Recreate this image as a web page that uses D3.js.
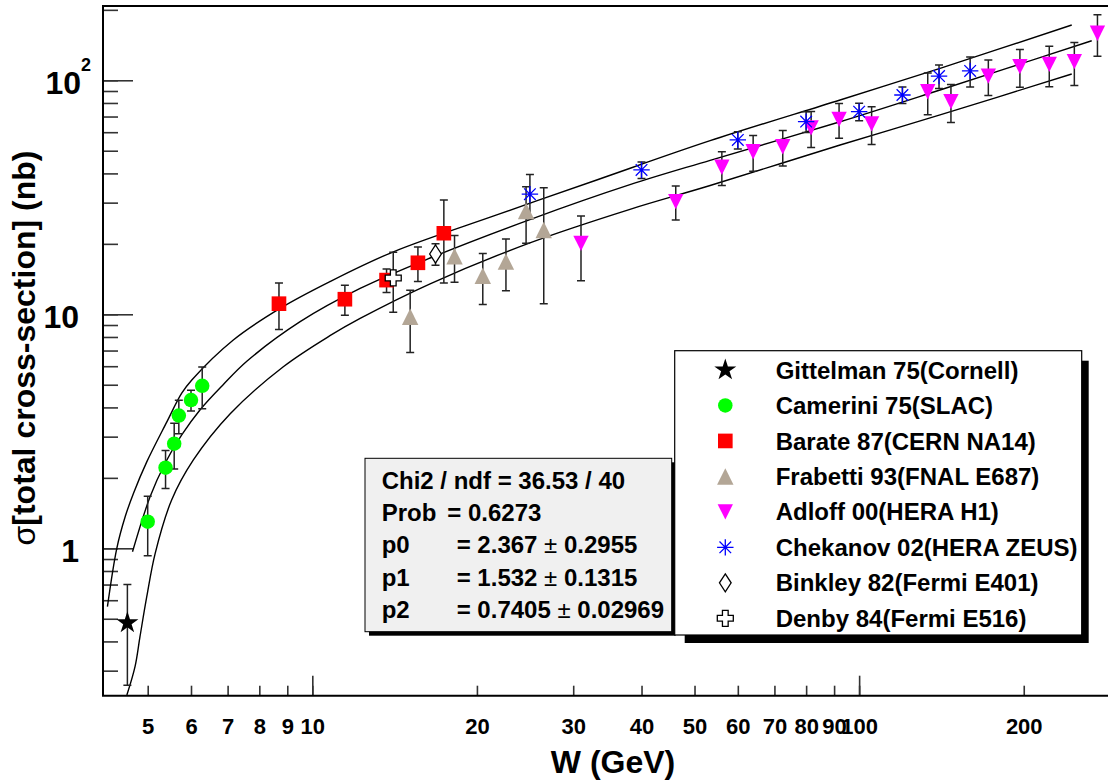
<!DOCTYPE html>
<html lang="en">
<head>
<meta charset="UTF-8">
<title>J/psi photoproduction cross-section</title>
<style>
    body { margin: 0; background: #fff; }
    svg { display: block; }
    text { font-family: "Liberation Sans", Arial, Helvetica, sans-serif; font-weight: bold; fill: #000; }
    .tick line { stroke-width: 1.6; }
    .curve { fill: none; stroke: #000; stroke-width: 1.4; }
    .err { stroke: #222; stroke-width: 1.5; fill: none; }
</style>
</head>
<body>
<svg width="1108" height="783"></svg>
<script src="https://cdn.jsdelivr.net/npm/d3@7/dist/d3.min.js"></script>
<script>

    // ---- data ----
    var gittelmanW = [4.59],
        gittelmanS = [0.48],
        gittelmanE = [0.22];

    var cameriniW = [5.0, 5.39, 5.59, 5.70, 6.0, 6.29],
        cameriniS = [1.30, 2.21, 2.80, 3.69, 4.30, 4.95],
        cameriniE = [0.37, 0.41, 0.62, 0.60, 0.44, 1.0];

    var barateW = [8.69, 11.47, 13.67, 15.6, 17.4],
        barateS = [11.1, 11.6, 14.0, 16.6, 22.2],
        barateE = [2.5, 1.7, 1.6, 2.8, 8.6];

    var frabettiW = [15.1, 18.2, 20.5, 22.6, 24.6, 26.5],
        frabettiS = [9.77, 17.7, 14.6, 16.8, 27.6, 22.9],
        frabettiE = [2.9, 4.0, 3.6, 4.2, 7.5, 11.8];

    var adloffW = [31.0, 46.2, 56.1, 64.0, 72.5, 81.7, 91.9, 105.4, 133.5, 147.2, 172.3, 196.8, 222.7, 247.5, 272.8],
        adloffS = [20.1, 30.3, 42.5, 49.5, 52.0, 62.6, 68.1, 65.1, 89.3, 81.0, 104.2, 114.3, 116.9, 120.1, 158.8],
        adloffE = [6.2, 5.0, 7.0, 8.6, 9.0, 11.0, 11.5, 12.0, 18.0, 15.0, 18.0, 21.0, 23.0, 25.0, 32.0];

    var chekanovW = [25.0, 40.0, 60.0, 80.0, 100, 120, 140, 159.6],
        chekanovS = [32.6, 41.4, 55.6, 66.6, 73.4, 86.5, 104.2, 109.6],
        chekanovE = [7.0, 3.4, 4.7, 6.8, 6.3, 7.0, 12.0, 16.0];

    var binkleyW = [16.8], binkleyS = [18.1], binkleyE = [1.9];
    var denbyW = [14.06], denbyS = [14.3], denbyE = [4.1];

    // fit curve and its error band
    var fitW = [4.69, 5.05, 5.38, 5.77, 6.23, 6.87, 7.59, 9.5, 12.23, 16.42, 25.0, 38.1, 53.4, 92.3, 140.6, 266.3],
        fitS = [0.967, 1.66, 2.31, 3.05, 3.9, 5.0, 6.3, 9.3, 12.9, 17.4, 25.4, 35.8, 45.5, 66.5, 90.9, 147.6];
    var upW = [4.22, 4.39, 4.55, 4.71, 4.98, 5.42, 5.77, 6.02, 7.17, 8.73, 10.77, 14.07, 21.74, 33.12, 53.4, 92.3, 140.6, 244.8],
        upS = [0.563, 1.0, 1.37, 1.72, 2.34, 3.47, 4.6, 5.24, 7.77, 10.6, 13.8, 18.5, 26.6, 37.5, 55.2, 82.4, 112.5, 172.3];
    var loW = [4.58, 4.74, 4.84, 4.98, 5.16, 5.53, 6.06, 7.07, 8.85, 10.77, 12.23, 16.42, 25.0, 38.1, 53.4, 92.3, 140.6, 244.8],
        loS = [0.236, 0.312, 0.419, 0.621, 0.952, 1.608, 2.385, 3.75, 5.97, 8.1, 9.6, 13.5, 20.2, 28.1, 35.5, 52.9, 71.1, 106.4];

    var xTicks = [5, 6, 7, 8, 9, 10, 20, 30, 40, 50, 60, 70, 80, 90, 100, 200],
        xMajor = [10, 100];
    var yTicks = [0.3, 0.4, 0.5, 0.6, 0.7, 0.8, 0.9, 1, 2, 3, 4, 5, 6, 7, 8, 9, 10, 20, 30, 40, 50, 60, 70, 80, 90, 100, 200],
        yMajor = [1, 10, 100];

    var legendLabels = ["Gittelman 75(Cornell)", "Camerini 75(SLAC)", "Barate 87(CERN NA14)", "Frabetti 93(FNAL E687)",
                        "Adloff 00(HERA H1)", "Chekanov 02(HERA ZEUS)", "Binkley 82(Fermi E401)", "Denby 84(Fermi E516)"];

    var statNames = ["Chi2 / ndf", "Prob", "p0", "p1", "p2"],
        statValues = ["36.53 / 40", "0.6273", "2.367", "1.532", "0.7405"],
        statErrors = [null, null, "0.2955", "0.1315", "0.02969"];

    // ---- marker shapes ----
    var triUp = { draw: function(c, s) { var r = Math.sqrt(s) / 2; c.moveTo(0, -r); c.lineTo(r, r); c.lineTo(-r, r); c.closePath(); } };
    var triDown = { draw: function(c, s) { var r = Math.sqrt(s) / 2; c.moveTo(0, r); c.lineTo(r, -r); c.lineTo(-r, -r); c.closePath(); } };
    var diamond = { draw: function(c, s) { var h = Math.sqrt(s) / 2, w = h * 0.65; c.moveTo(0, -h); c.lineTo(w, 0); c.lineTo(0, h); c.lineTo(-w, 0); c.closePath(); } };
    var crossOpen = { draw: function(c, s) {
        var r = Math.sqrt(s) / 2, a = r / 2.8;
        c.moveTo(-a, -r); c.lineTo(a, -r); c.lineTo(a, -a); c.lineTo(r, -a); c.lineTo(r, a); c.lineTo(a, a);
        c.lineTo(a, r); c.lineTo(-a, r); c.lineTo(-a, a); c.lineTo(-r, a); c.lineTo(-r, -a); c.lineTo(-a, -a); c.closePath(); } };
    var asterisk = { draw: function(c, s) {
        var r = Math.sqrt(s) / 2, d = r * 0.707;
        c.moveTo(0, -r); c.lineTo(0, r); c.moveTo(-r, 0); c.lineTo(r, 0);
        c.moveTo(-d, -d); c.lineTo(d, d); c.moveTo(-d, d); c.lineTo(d, -d); } };

    var series = [
        {W: gittelmanW, S: gittelmanS, E: gittelmanE, type: d3.symbolStar, size: 150, fill: "#000", stroke: "none"},
        {W: cameriniW, S: cameriniS, E: cameriniE, type: d3.symbolCircle, size: 165, fill: "#00ff00", stroke: "none"},
        {W: barateW, S: barateS, E: barateE, type: d3.symbolSquare, size: 215, fill: "#ff0000", stroke: "none"},
        {W: frabettiW, S: frabettiS, E: frabettiE, type: triUp, size: 270, fill: "#b3a696", stroke: "none"},
        {W: adloffW, S: adloffS, E: adloffE, type: triDown, size: 235, fill: "#ff00ff", stroke: "none"},
        {W: chekanovW, S: chekanovS, E: chekanovE, type: asterisk, size: 270, fill: "none", stroke: "#0000ff"},
        {W: binkleyW, S: binkleyS, E: binkleyE, type: diamond, size: 324, fill: "#fff", stroke: "#000"},
        {W: denbyW, S: denbyS, E: denbyE, type: crossOpen, size: 256, fill: "#fff", stroke: "#000"}
    ];

    // ---- layout ----
    var svg = d3.select("svg"),
        pLeft = 103, pRight = 1110, pTop = 6, pBottom = 695.7;

    var xScale = d3.scaleLog().domain([4.142, 287.6]).range([pLeft, pRight]),
        yScale = d3.scaleLog().domain([0.2345, 207.7]).range([pBottom, pTop]);

    svg.append("defs").append("clipPath").attr("id", "plot")
        .append("rect").attr("x", pLeft).attr("y", pTop).attr("width", pRight - pLeft).attr("height", pBottom - pTop);

    // x axis: minor + major ticks, labels
    var xAxis = svg.append("g")
        .attr("transform", "translate(0," + pBottom + ")")
        .attr("color", "#333")
        .call(d3.axisBottom(xScale).tickValues(xTicks).tickSizeInner(-10).tickSizeOuter(0).tickPadding(23)
            .tickFormat(function(d) { return String(d); }));
    xAxis.select(".domain").remove();
    xAxis.selectAll("text").attr("font-size", 22).style("fill", "#000");

    var xAxisMajor = svg.append("g")
        .attr("transform", "translate(0," + pBottom + ")")
        .attr("color", "#333")
        .call(d3.axisBottom(xScale).tickValues(xMajor).tickSizeInner(-20).tickSizeOuter(0).tickFormat(""));
    xAxisMajor.select(".domain").remove();

    // y axis
    var yAxis = svg.append("g")
        .attr("transform", "translate(" + pLeft + ",0)")
        .attr("color", "#333")
        .call(d3.axisLeft(yScale).tickValues(yTicks).tickSizeInner(-15).tickSizeOuter(0).tickPadding(24)
            .tickFormat(function(d) { return yMajor.indexOf(d) >= 0 ? String(d) : ""; }));
    yAxis.select(".domain").remove();
    yAxis.selectAll("text")
        .attr("font-size", 32)
        .attr("dy", "0.42em")
        .style("fill", "#000")
        .each(function(d) {
            if (d === 100) {
                var t = d3.select(this).text("10").attr("x", -12);
                t.append("tspan").attr("font-size", 18).attr("dy", -23).text("2");
            }
        });

    var yAxisMajor = svg.append("g")
        .attr("transform", "translate(" + pLeft + ",0)")
        .attr("color", "#333")
        .call(d3.axisLeft(yScale).tickValues(yMajor).tickSizeInner(-30).tickSizeOuter(0).tickFormat(""));
    yAxisMajor.select(".domain").remove();

    // frame
    svg.append("path")
        .attr("d", "M" + pRight + "," + pTop + "H" + pLeft + "V" + pBottom + "H" + pRight)
        .attr("fill", "none").attr("stroke", "#000").attr("stroke-width", 2);

    // axis titles
    svg.append("text")
        .attr("x", 613).attr("y", 773)
        .attr("text-anchor", "middle")
        .attr("font-size", 32)
        .text("W (GeV)");

    var yTitle = svg.append("text")
        .attr("transform", "translate(35,348) rotate(-90)")
        .attr("text-anchor", "middle")
        .attr("font-size", 32);
    yTitle.append("tspan").attr("font-weight", "normal").text("σ");
    yTitle.append("tspan").text("[total cross-section] (nb)");

    // fit curves
    var plot = svg.append("g").attr("clip-path", "url(#plot)");
    var line = d3.line()
        .x(function(d) { return xScale(d[0]); })
        .y(function(d) { return yScale(d[1]); })
        .curve(d3.curveCatmullRom.alpha(0.5));

    [[upW, upS], [fitW, fitS], [loW, loS]].forEach(function(c) {
        plot.append("path")
            .attr("class", "curve")
            .attr("d", line(d3.zip(c[0], c[1])));
    });

    // error bars
    var capW = 4;
    series.forEach(function(s) {
        plot.append("g").selectAll("path")
            .data(d3.zip(s.W, s.S, s.E))
            .enter()
            .append("path")
            .attr("class", "err")
            .attr("d", function(d) {
                var x = xScale(d[0]),
                    y1 = yScale(d[1] + d[2]),
                    y0 = yScale(Math.max(d[1] - d[2], 0.01));
                return "M" + x + "," + y1 + "V" + y0 +
                       "M" + (x - capW) + "," + y1 + "H" + (x + capW) +
                       "M" + (x - capW) + "," + y0 + "H" + (x + capW);
            });
    });

    // markers
    series.forEach(function(s) {
        plot.append("g").selectAll("path")
            .data(d3.zip(s.W, s.S))
            .enter()
            .append("path")
            .attr("transform", function(d) { return "translate(" + xScale(d[0]) + "," + yScale(d[1]) + ")"; })
            .attr("d", d3.symbol().type(s.type).size(s.size))
            .attr("fill", s.fill)
            .attr("stroke", s.stroke)
            .attr("stroke-width", s.stroke === "none" ? 0 : 1.3);
    });

    // stats box
    var sb = {x: 365, y: 458.3, w: 306.7, h: 173.4};
    svg.append("rect").attr("x", sb.x + 4).attr("y", sb.y + 4).attr("width", sb.w).attr("height", sb.h).attr("fill", "#000");
    svg.append("rect").attr("x", sb.x).attr("y", sb.y).attr("width", sb.w).attr("height", sb.h)
        .attr("fill", "#f0f0f0").attr("stroke", "#000").attr("stroke-width", 1);

    var statG = svg.append("g");
    statNames.forEach(function(name, i) {
        var by = 488.6 + i * 32.35;
        if (i === 0) {
            statG.append("text").attr("x", 381.7).attr("y", by).attr("font-size", 24)
                .text(name + " = " + statValues[i]);
            return;
        }
        statG.append("text").attr("x", 381.7).attr("y", by).attr("font-size", 24).text(name);
        var t = statG.append("text").attr("x", i === 1 ? 447.3 : 456.7).attr("y", by).attr("font-size", 24)
            .text("= " + statValues[i]);
        if (statErrors[i]) {
            t.append("tspan").attr("font-weight", "normal").text(" ± ");
            t.append("tspan").text(statErrors[i]);
        }
    });

    // legend
    var lg = {x: 674.7, y: 350.7, w: 407, h: 284.3};
    svg.append("rect").attr("x", lg.x + 10).attr("y", lg.y + 10).attr("width", lg.w - 3).attr("height", lg.h - 2).attr("fill", "#000");
    svg.append("rect").attr("x", lg.x).attr("y", lg.y).attr("width", lg.w).attr("height", lg.h)
        .attr("fill", "#fff").attr("stroke", "#000").attr("stroke-width", 1.2);

    var rows = svg.append("g").selectAll("g")
        .data(series)
        .enter()
        .append("g")
        .attr("transform", function(d, i) { return "translate(0," + (370 + i * 35.47) + ")"; });

    rows.append("path")
        .attr("transform", "translate(725.3,0)")
        .attr("d", function(d) { return d3.symbol().type(d.type).size(d.size)(); })
        .attr("fill", function(d) { return d.fill; })
        .attr("stroke", function(d) { return d.stroke; })
        .attr("stroke-width", function(d) { return d.stroke === "none" ? 0 : 1.3; });

    rows.append("text")
        .attr("x", 775.7)
        .attr("y", 8.6)
        .attr("font-size", 24)
        .text(function(d, i) { return legendLabels[i]; });

</script>
</body>
</html>
